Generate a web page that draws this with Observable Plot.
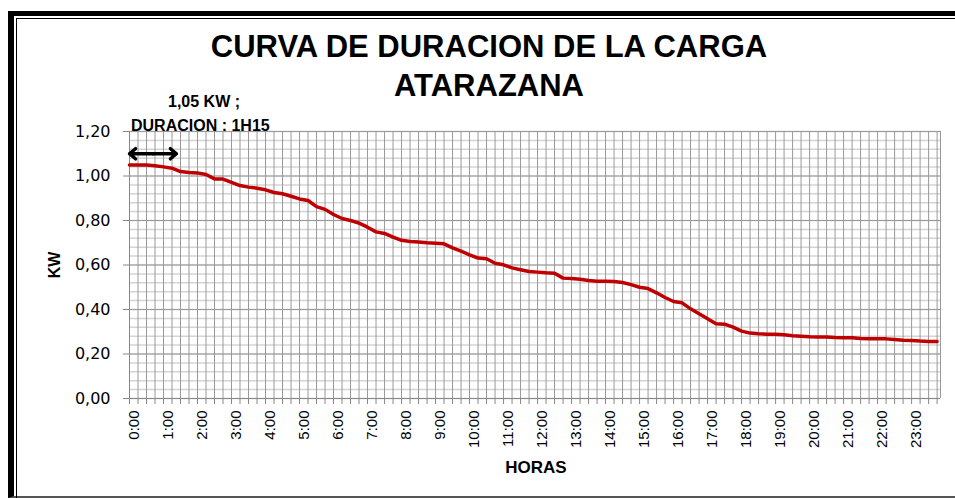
<!DOCTYPE html>
<html>
<head>
<meta charset="utf-8">
<script src="https://cdn.jsdelivr.net/npm/d3@7"></script>
<script src="https://cdn.jsdelivr.net/npm/@observablehq/plot@0.6"></script>
<style>
  body { margin: 0; background: #fff; }
  #wrap { position: relative; width: 955px; height: 498px; overflow: hidden; background: #fff; }
  .abs { position: absolute; white-space: nowrap; }
  .title { font-family: "Liberation Sans", Arial, sans-serif; font-weight: bold; font-size: 31px; color: #000; line-height: normal; }
  .ann { font-family: "Liberation Sans", Arial, sans-serif; font-weight: bold; font-size: 16px; color: #000; line-height: normal; }
</style>
</head>
<body>
<div id="wrap">
  <div class="abs" style="left:8px;top:11px;width:1000px;height:480px;border-left:6px solid #000;border-top:5px solid #000;border-bottom:2px solid #555;"></div>
  <div class="abs" style="left:16px;top:18px;width:1000px;height:500px;border-left:1px solid #000;border-top:1px solid #000;"></div>
  <div id="chart" class="abs" style="left:0;top:0;"></div>
  <div class="abs title" style="left:0;width:978px;text-align:center;top:29px;">CURVA DE DURACION DE LA CARGA</div>
  <div class="abs title" style="left:0;width:978px;text-align:center;top:68px;">ATARAZANA</div>
  <div class="abs ann" style="left:168px;top:93px;">1,05 KW ;</div>
  <div class="abs ann" style="left:131px;top:117px;">DURACION : 1H15</div>
  <div class="abs ann" style="left:536px;top:458px;transform:translateX(-50%);font-size:17px;">HORAS</div>
  <div class="abs ann" style="left:55px;top:265px;transform:translate(-50%,-50%) rotate(-90deg);font-size:16px;">KW</div>
</div>
<script>
// Tick labels for the hour axis
const hourLabels = ["0:00","1:00","2:00","3:00","4:00","5:00","6:00","7:00","8:00","9:00","10:00","11:00",
  "12:00","13:00","14:00","15:00","16:00","17:00","18:00","19:00","20:00","21:00","22:00","23:00"];
// Y ticks (kW)
const yTicks = [0, 0.2, 0.4, 0.6, 0.8, 1.0, 1.2];
// Load duration values, one every 15 minutes (0:00 .. 23:45)
const kwValues = [
  1.049, 1.049, 1.049, 1.046, 1.041, 1.035, 1.020, 1.016, 1.014, 1.007, 0.987, 0.986,
  0.971, 0.957, 0.950, 0.945, 0.938, 0.926, 0.920, 0.909, 0.897, 0.890, 0.862, 0.850,
  0.827, 0.809, 0.800, 0.788, 0.770, 0.749, 0.742, 0.725, 0.711, 0.706, 0.703, 0.700,
  0.698, 0.695, 0.677, 0.662, 0.646, 0.631, 0.628, 0.608, 0.601, 0.587, 0.579, 0.571,
  0.568, 0.565, 0.563, 0.541, 0.539, 0.536, 0.530, 0.527, 0.527, 0.526, 0.521, 0.512,
  0.500, 0.494, 0.475, 0.454, 0.436, 0.430, 0.403, 0.381, 0.358, 0.336, 0.334, 0.321,
  0.303, 0.294, 0.291, 0.289, 0.289, 0.286, 0.282, 0.280, 0.277, 0.276, 0.276, 0.274,
  0.273, 0.273, 0.270, 0.268, 0.268, 0.268, 0.265, 0.262, 0.261, 0.258, 0.256, 0.256
];
// Annotation: peak 1,05 kW lasting 1h15 (arrow extent, in hours)
const arrowStartH = [0];
const arrowEndH = [1.38];
const arrowKw = [1.10];

const stepH = 0.25;
const data = kwValues.map((v, i) => ({t: i * stepH, kw: v}));
const quarters = d3.range(0, 96).map(i => i * stepH);
const hourTicks = d3.range(0, 24);
const minorY = d3.range(0, 31).map(i => i * 0.04);
const xMax = 23.85;
const fmtY = d => d3.format(".2f")(d).replace(".", ",");

const arrowMid = arrowStartH.map((s, i) => ({s, e: arrowEndH[i], m: (s + arrowEndH[i]) / 2, y: arrowKw[i]}));

const chart = Plot.plot({
  width: 955,
  height: 498,
  marginLeft: 129,
  marginRight: 15,
  marginTop: 131,
  marginBottom: 100,
  x: {domain: [0, xMax], axis: null},
  y: {domain: [0, 1.2], axis: null},
  style: {background: "transparent", fontFamily: "DejaVu Sans, sans-serif", fontSize: "16px", color: "#000", overflow: "visible"},
  marks: [
    Plot.ruleY(minorY, {stroke: "#d4d4d4", strokeWidth: 1.5}),
    Plot.ruleY(yTicks, {stroke: "#9a9a9a", strokeWidth: 1}),
    Plot.ruleX(quarters, {y1: 0, y2: 1.2, stroke: "#999", strokeWidth: 1}),
    Plot.ruleX([xMax], {y1: 0, y2: 1.2, stroke: "#999", strokeWidth: 1}),
    Plot.axisY({ticks: yTicks, tickFormat: fmtY, tickSize: 6, tickPadding: 13, stroke: "#888", label: null, fontSize: 16, fontFamily: "DejaVu Sans"}),
    Plot.axisX({ticks: quarters, tickSize: 6, tickFormat: () => "", stroke: "#888", label: null}),
    Plot.axisX({ticks: hourTicks, tickSize: 0, tickPadding: 12, tickRotate: -90, tickFormat: d => hourLabels[d], label: null, fontSize: 15, fontFamily: "Liberation Sans, Arial", dx: 5}),
    Plot.ruleX([0], {y1: 0, y2: 1.2, stroke: "#888", strokeWidth: 1}),
    Plot.ruleY([0], {stroke: "#888", strokeWidth: 1}),
    Plot.line(data, {x: "t", y: "kw", stroke: "#c00000", strokeWidth: 3.5, strokeLinejoin: "round", strokeLinecap: "round"}),
    Plot.arrow(arrowMid, {x1: "m", x2: "s", y1: "y", y2: "y", stroke: "#000", strokeWidth: 3.5, headLength: 15, headAngle: 80}),
    Plot.arrow(arrowMid, {x1: "m", x2: "e", y1: "y", y2: "y", stroke: "#000", strokeWidth: 3.5, headLength: 15, headAngle: 80})
  ]
});
document.getElementById("chart").appendChild(chart);
</script>
</body>
</html>
